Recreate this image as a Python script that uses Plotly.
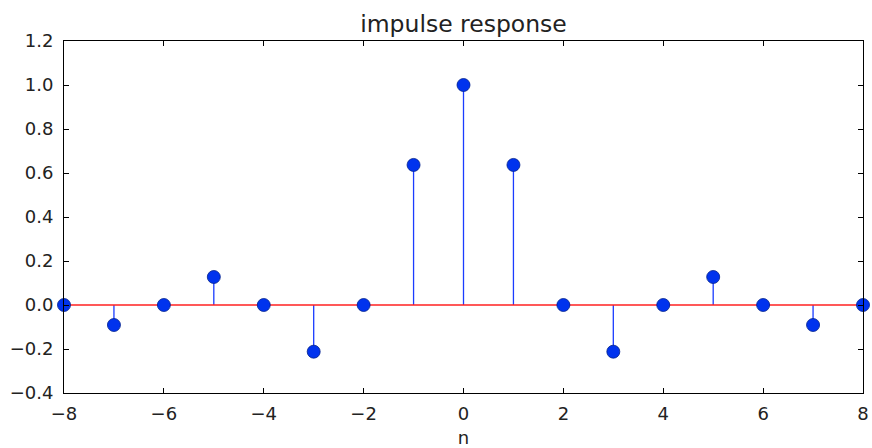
import plotly.graph_objects as go

n = [-8, -7, -6, -5, -4, -3, -2, -1, 0, 1, 2, 3, 4, 5, 6, 7, 8]
h = [0.0, -0.0909, 0.0, 0.1273, 0.0, -0.2122, 0.0, 0.6366, 1.0,
     0.6366, 0.0, -0.2122, 0.0, 0.1273, 0.0, -0.0909, 0.0]
x_ticks = [-8, -6, -4, -2, 0, 2, 4, 6, 8]
y_ticks = [-0.4, -0.2, 0.0, 0.2, 0.4, 0.6, 0.8, 1.0, 1.2]

stem_x, stem_y = [], []
for xi, yi in zip(n, h):
    stem_x += [xi, xi, None]
    stem_y += [0, yi, None]

fig = go.Figure()
fig.add_trace(go.Scatter(x=stem_x, y=stem_y, mode="lines",
                         line=dict(color="#1a3cff", width=1.3), hoverinfo="skip"))
fig.add_trace(go.Scatter(x=[min(n), max(n)], y=[0, 0], mode="lines",
                         line=dict(color="#ff2020", width=1.5)))
fig.add_trace(go.Scatter(x=n, y=h, mode="markers",
                         marker=dict(color="#0033ee", size=13,
                                     line=dict(color="#00208a", width=0.8)),
                         cliponaxis=False))

font = dict(family="DejaVu Sans", size=18, color="#222222")
axis_common = dict(showgrid=False, zeroline=False, showline=True, linecolor="black",
                   linewidth=1, mirror="ticks", ticks="inside", ticklen=5,
                   tickcolor="black", tickwidth=1, tickfont=font, automargin=False)
fig.update_xaxes(range=[-8, 8], tickvals=x_ticks,
                 ticktext=[str(v).replace("-", "\u2212") for v in x_ticks],
                 ticklabelstandoff=4,
                 title=dict(text="n", font=font, standoff=10), **axis_common)
fig.update_yaxes(range=[-0.4, 1.2], tickvals=y_ticks,
                 ticktext=[f"{v:.1f}".replace("-", "\u2212") for v in y_ticks],
                 ticklabelstandoff=6,
                 **axis_common)
fig.update_layout(width=872, height=448, showlegend=False, autosize=False,
                  margin=dict(l=64, r=9, t=41, b=55, autoexpand=False),
                  plot_bgcolor="white", paper_bgcolor="white",
                  title=dict(text="impulse response", x=0.5, xref="paper", xanchor="center",
                             y=1, yref="paper", yanchor="bottom", pad=dict(b=9),
                             automargin=False,
                             font=dict(family="DejaVu Sans", size=23.5, color="#222222")),
                  font=font)
fig.write_html("out.html", config={"displayModeBar": False, "responsive": False},
               post_script="document.body.style.margin='0';")
